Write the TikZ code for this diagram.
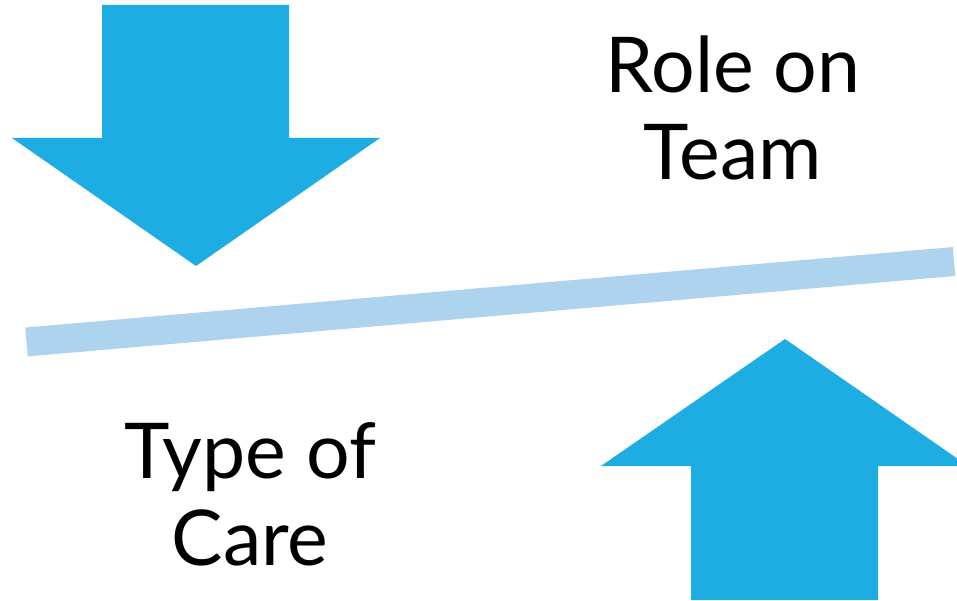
\documentclass[tikz,border=0pt]{standalone}
\usepackage{fontspec}
\setmainfont{Lato}
\begin{document}
\begin{tikzpicture}[x=1pt,y=-1pt,
  arrowfill/.style={fill={rgb,255:red,30;green,173;blue,227}, draw=none},
  barline/.style={draw={rgb,255:red,173;green,211;blue,238}, line width=29pt, line cap=butt},
  label/.style={align=center, inner sep=0pt, font=\fontsize{77}{87}\selectfont, text=black}]
\useasboundingbox (0,0) rectangle (957,601);
\fill[white] (0,0) rectangle (957,601);
\begin{scope}
\clip (0,0) rectangle (957,601);
% down arrow
\path[arrowfill] (102,5) -- (289,5) -- (289,138) -- (380,138) -- (196,266) -- (12,138) -- (102,138) -- cycle;
% up arrow
\path[arrowfill] (691,600) -- (878,600) -- (878,466) -- (968,466) -- (785,339) -- (601,466) -- (691,466) -- cycle;
\end{scope}
\coordinate (L) at (26.5,342);
\coordinate (R) at (954,261.5);
\draw[barline] (L) -- (R);
\node[label] (role) at (733,108) {Role on\\Team};
\node[label] (type) at (250,494) {Type of\\Care};
\end{tikzpicture}
\end{document}
